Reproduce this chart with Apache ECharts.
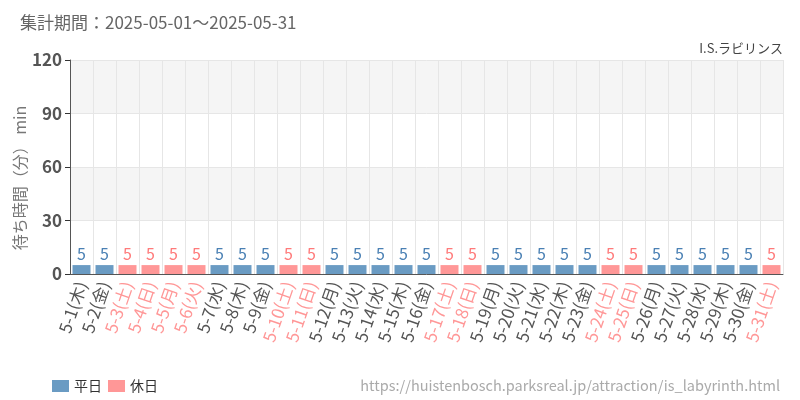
<!DOCTYPE html>
<html><head><meta charset="utf-8">
<script src="https://cdn.jsdelivr.net/npm/echarts@6/dist/echarts.min.js"></script>
<style>html,body{margin:0;padding:0;background:#fff}#c{width:800px;height:400px}</style>
</head><body><div id="c"></div>
<script>
const days = ['5-1','5-2','5-3','5-4','5-5','5-6','5-7','5-8','5-9','5-10','5-11','5-12','5-13','5-14','5-15','5-16','5-17','5-18','5-19','5-20','5-21','5-22','5-23','5-24','5-25','5-26','5-27','5-28','5-29','5-30','5-31'];
const weekdays = ['木','金','土','日','月','火','水','木','金','土','日','月','火','水','木','金','土','日','月','火','水','木','金','土','日','月','火','水','木','金','土'];
const holiday = [0,0,1,1,1,1,0,0,0,1,1,0,0,0,0,0,1,1,0,0,0,0,0,1,1,0,0,0,0,0,1];
const waitTimes = [5,5,5,5,5,5,5,5,5,5,5,5,5,5,5,5,5,5,5,5,5,5,5,5,5,5,5,5,5,5,5];
const yTicks = [0,30,60,90,120];
const yName = '待ち時間（分） min';

const BLUE = '#6a9bc3', PINK = '#ff9797';
const FONT = '"Noto Sans CJK JP","Noto Sans",sans-serif';
const cats = days.map((d,i)=>d+'('+weekdays[i]+')');
const weekdayData = waitTimes.map((v,i)=>holiday[i]?'-':v);
const holidayData = waitTimes.map((v,i)=>holiday[i]?v:'-');

const chart = echarts.init(document.getElementById('c'));
chart.setOption({
  animation:false,
  textStyle:{fontFamily:FONT},
  title:[
    {text:'集計期間：2025-05-01～2025-05-31',left:15,top:9,textStyle:{fontSize:17,fontWeight:'normal',color:'#666',fontFamily:FONT}},
    {text:'I.S.ラビリンス',right:12,top:37,textStyle:{fontSize:13,fontWeight:'normal',color:'#444',fontFamily:FONT}},
    {text:'https://huistenbosch.parksreal.jp/attraction/is_labyrinth.html',right:15,top:373,textStyle:{fontSize:14.5,fontWeight:'normal',color:'#aaa',fontFamily:FONT}}
  ],
  graphic:[{type:'text',x:20,y:178,rotation:Math.PI/2,
    style:{text:yName,fontSize:16,fill:'#777',fontFamily:FONT,align:'center',verticalAlign:'middle'}}],
  legend:{left:47,top:374,itemWidth:17,itemHeight:12,itemGap:6,textStyle:{fontSize:14,color:'#333'},data:['平日','休日'],icon:'rect'},
  grid:{left:70,right:17,top:60,bottom:126},
  xAxis:{type:'category',data:cats,
    axisLine:{lineStyle:{color:'#555'}},
    axisTick:{alignWithLabel:true,lineStyle:{color:'#333'}},
    splitLine:{show:true,lineStyle:{color:'#e6e6e6'}},
    axisLabel:{rotate:71,interval:0,fontSize:17,margin:8,
      color:(v,i)=>holiday[i]?PINK:'#555'}},
  yAxis:{type:'value',min:0,max:120,interval:30,
    axisLine:{show:true,lineStyle:{color:'#555'}},
    axisTick:{show:true,lineStyle:{color:'#333'}},
    axisLabel:{fontSize:17,fontWeight:'bold',color:'#555',formatter:v=>yTicks.includes(v)?String(v):''},
    splitLine:{lineStyle:{color:'#e6e6e6'}},
    splitArea:{show:true,areaStyle:{color:['#fff','#f5f5f5']}}},
  series:[
    {name:'平日',type:'bar',stack:'a',data:weekdayData,barWidth:18,itemStyle:{color:BLUE},
      label:{show:true,position:'top',color:'#4a80b4',fontSize:16,distance:3}},
    {name:'休日',type:'bar',stack:'a',data:holidayData,barWidth:18,itemStyle:{color:PINK},
      label:{show:true,position:'top',color:'#ff7a7a',fontSize:16,distance:3}}
  ]
});
</script></body></html>
